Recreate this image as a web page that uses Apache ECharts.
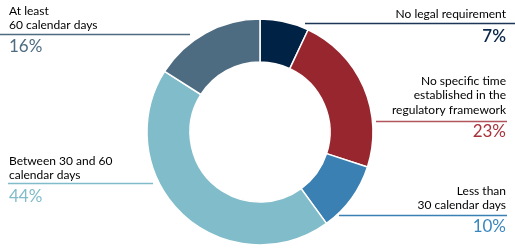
<!DOCTYPE html>
<html><head><meta charset="utf-8">
<script src="https://cdn.jsdelivr.net/npm/echarts@6/dist/echarts.min.js"></script>
<style>html,body{margin:0;padding:0;background:#fff}#c{width:515px;height:250px}</style>
</head><body><div id="c"></div>
<script>
const categories = ["No legal requirement", "No specific time\nestablished in the\nregulatory framework", "Less than\n30 calendar days", "Between 30 and 60\ncalendar days", "At least\n60 calendar days"];
const values = [7, 23, 10, 44, 16];
const pctLabels = ["7%", "23%", "10%", "44%", "16%"];
const sliceColors = ["#002244", "#98262e", "#3a80b2", "#80bcc9", "#4e6c81"];
const pctColors = ["#0a2648", "#a8323a", "#3a86be", "#80bcc9", "#4e6c81"];
const ruleColors = ["#1d3556", "#b0565c", "#3a80b2", "#80bcc9", "#4e6c81"];

// layout of annotations (pixels)
const layout = [
  {align:'right', x:506, base:18, rule:[305,515,23.5], pctBase:43, weight:'600'},
  {align:'right', x:506, base:85, rule:[376,507,121.5], pctBase:138, weight:'normal'},
  {align:'right', x:506, base:195, rule:[339,507,215.5], pctBase:233, weight:'normal'},
  {align:'left', x:9, base:165, rule:[8,153,183.5], pctBase:203, weight:'normal'},
  {align:'left', x:9, base:15, rule:[0,190,34.5], pctBase:53, weight:'normal'}
];
const FONT = 'Lato, "Open Sans", sans-serif';
const graphics = [];
categories.forEach((cat, i) => {
  const L = layout[i];
  const lines = cat.split('\n');
  lines.forEach((t, k) => {
    graphics.push({type:'text', x:L.x, y:L.base + k*14.5 - 4, silent:true,
      style:{text:t, fill:'#000', font:'12px ' + FONT, textAlign:L.align, textVerticalAlign:'middle'}});
  });
  graphics.push({type:'line', silent:true, shape:{x1:L.rule[0], y1:L.rule[2], x2:L.rule[1], y2:L.rule[2]},
    style:{stroke:ruleColors[i], lineWidth:1.5}});
  graphics.push({type:'text', x:L.x, y:L.pctBase - 6, silent:true,
    style:{text:pctLabels[i], fill:pctColors[i], font:L.weight + ' 17px ' + FONT, textAlign:L.align, textVerticalAlign:'middle'}});
});

const chart = echarts.init(document.getElementById('c'));
chart.setOption({
  animation:false,
  series:[{
    type:'pie', center:[260,132], radius:[70,113], startAngle:90, clockwise:true,
    label:{show:false}, labelLine:{show:false}, silent:true,
    itemStyle:{borderColor:'#fff', borderWidth:1.5},
    data: values.map((v,i)=>({value:v, name:categories[i], itemStyle:{color:sliceColors[i]}}))
  }],
  graphic: graphics
});
</script></body></html>
